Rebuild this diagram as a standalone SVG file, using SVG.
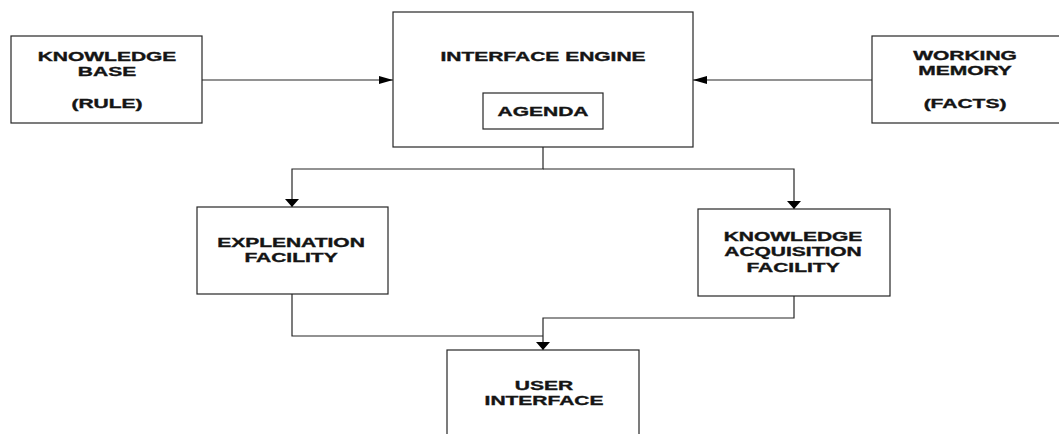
<svg xmlns="http://www.w3.org/2000/svg" width="1059" height="434" viewBox="0 0 1059 434">
  <style>
    .box { fill: #ffffff; stroke: #262626; stroke-width: 1.2; }
    .lbl { font-family: "Liberation Sans", Arial, sans-serif; font-weight: bold; font-size: 12.5px; fill: #141414; stroke: #141414; stroke-width: 0.35; text-anchor: middle; }
    .wire { fill: none; stroke: #262626; stroke-width: 1.2; }
    .wire-h { marker-end: url(#headH); }
    .wire-v { marker-end: url(#headV); }
  </style>
  <defs>
    <!-- long, narrow head for horizontal connectors -->
    <marker id="headH" markerUnits="userSpaceOnUse" markerWidth="16" markerHeight="10" refX="14" refY="4" orient="auto" viewBox="0 0 16 10">
      <path d="M0,0 L14,4 L0,8 Z" fill="#000"/>
    </marker>
    <!-- wide, short head for vertical connectors -->
    <marker id="headV" markerUnits="userSpaceOnUse" markerWidth="10" markerHeight="16" refX="8" refY="7" orient="auto" viewBox="0 0 10 16">
      <path d="M0,0 L8,7 L0,14 Z" fill="#000"/>
    </marker>
  </defs>

  <rect width="1059" height="434" fill="#ffffff"/>

  <g id="connectors">
    <path class="wire wire-h" d="M202,80 H393"/>
    <path class="wire wire-h" d="M872,80 H693"/>
    <path class="wire wire-v" d="M543,147 V169 H292 V207"/>
    <path class="wire wire-v" d="M543,169 H794 V209"/>
    <path class="wire" d="M292,294 V336 H543"/>
    <path class="wire wire-v" d="M794,296 V318 H543 V350"/>
  </g>

  <!-- labels are set in a wide face: each label group is stretched horizontally about its centre -->
  <g id="knowledge-base">
    <rect class="box" x="11" y="36" width="191" height="87"/>
    <g transform="translate(107,0) scale(1.68,1)">
      <text class="lbl" x="0" y="61">KNOWLEDGE</text>
      <text class="lbl" x="0" y="76">BASE</text>
      <text class="lbl" x="0" y="108">(RULE)</text>
    </g>
  </g>

  <g id="interface-engine">
    <rect class="box" x="393" y="12" width="300" height="135"/>
    <g transform="translate(543,0) scale(1.68,1)">
      <text class="lbl" x="0" y="61">INTERFACE ENGINE</text>
    </g>
    <g id="agenda">
      <rect class="box" x="483" y="93" width="120" height="36"/>
      <g transform="translate(543,0) scale(1.68,1)">
        <text class="lbl" x="0" y="116">AGENDA</text>
      </g>
    </g>
  </g>

  <g id="working-memory">
    <rect class="box" x="872" y="36" width="190" height="87"/>
    <g transform="translate(965,0) scale(1.68,1)">
      <text class="lbl" x="0" y="60">WORKING</text>
      <text class="lbl" x="0" y="75">MEMORY</text>
      <text class="lbl" x="0" y="108">(FACTS)</text>
    </g>
  </g>

  <g id="explanation-facility">
    <rect class="box" x="197" y="207" width="191" height="87"/>
    <g transform="translate(291,0) scale(1.68,1)">
      <text class="lbl" x="0" y="247">EXPLENATION</text>
      <text class="lbl" x="0" y="262">FACILITY</text>
    </g>
  </g>

  <g id="knowledge-acquisition-facility">
    <rect class="box" x="698" y="209" width="192" height="87"/>
    <g transform="translate(793,0) scale(1.68,1)">
      <text class="lbl" x="0" y="241">KNOWLEDGE</text>
      <text class="lbl" x="0" y="256">ACQUISITION</text>
      <text class="lbl" x="0" y="272">FACILITY</text>
    </g>
  </g>

  <g id="user-interface">
    <rect class="box" x="447" y="350" width="192" height="100"/>
    <g transform="translate(544,0) scale(1.68,1)">
      <text class="lbl" x="0" y="390">USER</text>
      <text class="lbl" x="0" y="405">INTERFACE</text>
    </g>
  </g>
</svg>
